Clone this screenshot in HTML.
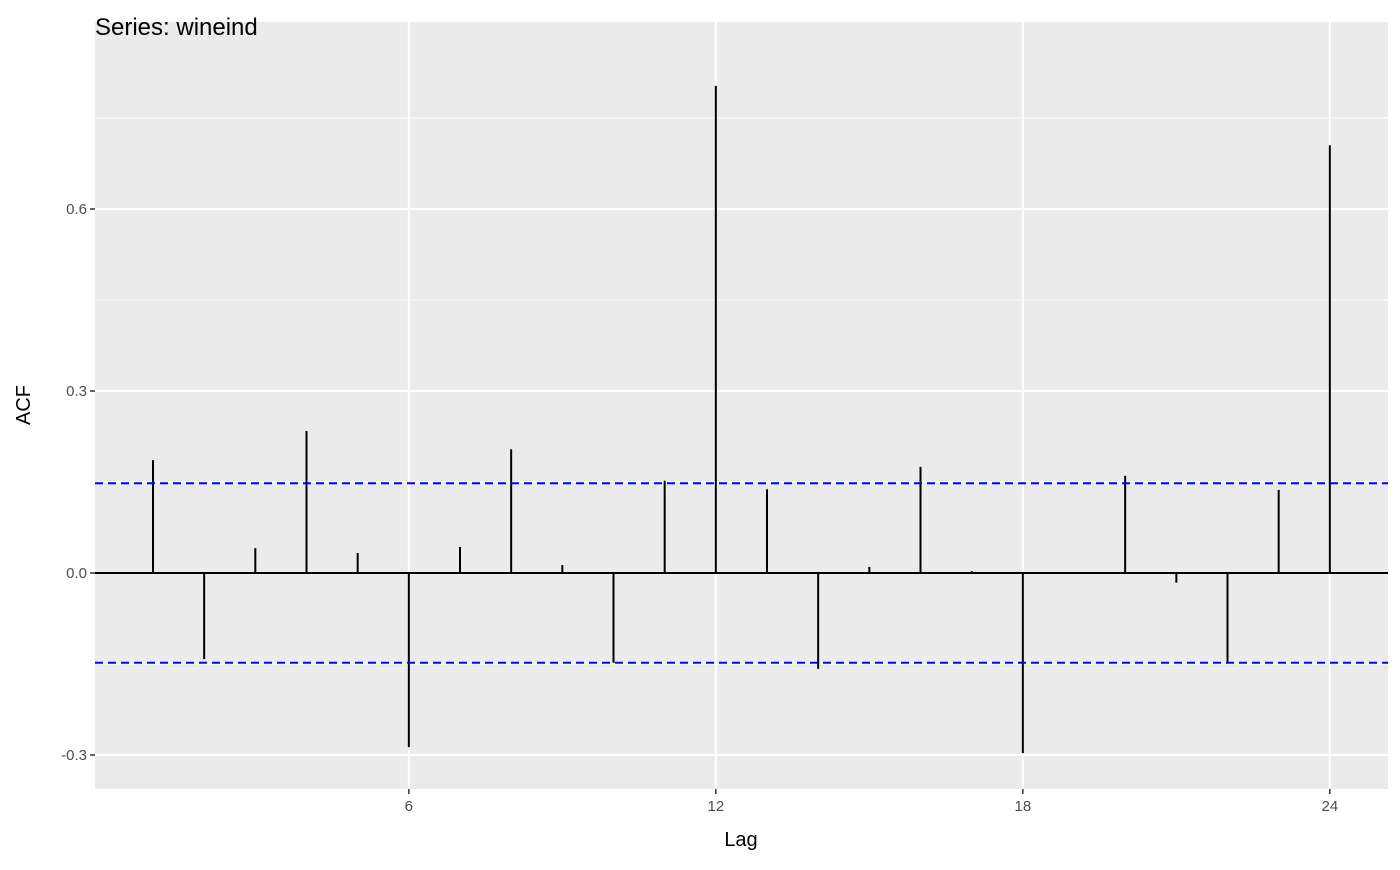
<!DOCTYPE html>
<html><head><meta charset="utf-8"><style>
body{margin:0;background:#fff;font-family:"Liberation Sans",sans-serif}
</style></head><body>
<svg id="chart" width="1400" height="865" xmlns="http://www.w3.org/2000/svg" font-family="Liberation Sans, sans-serif">
<rect x="95" y="22" width="1293" height="767" fill="#ebebeb"/>
<g id="grid"></g>
<g id="marks"></g>
<g id="axes"></g>
<text x="95" y="35" font-size="24" fill="#000">Series: wineind</text>
<text x="741" y="846" font-size="20" text-anchor="middle" fill="#000">Lag</text>
<text transform="translate(30,405) rotate(-90)" font-size="20" text-anchor="middle" fill="#000">ACF</text>
</svg>
<script>
const lags=[1,2,3,4,5,6,7,8,9,10,11,12,13,14,15,16,17,18,19,20,21,22,23,24];
const acf=[0.186,-0.142,0.041,0.234,0.033,-0.287,0.043,0.204,0.013,-0.148,0.152,0.803,0.138,-0.158,0.010,0.175,0.003,-0.297,0.001,0.160,-0.016,-0.148,0.137,0.705];
const ciBound=[0.148];
const xTicks=[6,12,18,24];
const yTicks=[-0.3,0,0.3,0.6];
const yTickLabels=["-0.3","0.0","0.3","0.6"];
const yMinor=[-0.15,0.15,0.45,0.75];
const NS="http://www.w3.org/2000/svg";
const X=l=>153+(l-1)*(715-408)/6;
const Y=v=>573-v*(573-391)/0.3;
const L=95,R=1388,T=22,B=789;
function mk(tag,attrs,parent){const e=document.createElementNS(NS,tag);for(const k in attrs)e.setAttribute(k,attrs[k]);document.getElementById(parent).appendChild(e);return e;}
yMinor.forEach(v=>{const e=mk('line',{x1:L,x2:R,y1:Y(v),y2:Y(v),stroke:'#fff','stroke-width':1},'grid');

});
xTicks.forEach(v=>{const e=mk('line',{x1:X(v),x2:X(v),y1:T,y2:B,stroke:'#fff','stroke-width':2},'grid');


const t=mk('line',{x1:X(v),x2:X(v),y1:B,y2:B+5,stroke:'#333','stroke-width':1.5},'axes');


const tx=mk('text',{x:X(v),y:B+22,'font-size':15,'text-anchor':'middle',fill:'#4d4d4d'},'axes');tx.textContent=v;

});
yTicks.forEach((v,i)=>{const e=mk('line',{x1:L,x2:R,y1:Y(v),y2:Y(v),stroke:'#fff','stroke-width':2},'grid');


const t=mk('line',{x1:L-5,x2:L,y1:Y(v),y2:Y(v),stroke:'#333','stroke-width':1.5},'axes');


const tx=mk('text',{x:L-8,y:Y(v)+5,'font-size':15,'text-anchor':'end',fill:'#4d4d4d'},'axes');tx.textContent=yTickLabels[i];

});
const z=mk('line',{x1:L,x2:R,y1:Y(0),y2:Y(0),stroke:'#000','stroke-width':2},'marks');


lags.forEach((l,i)=>{const e=mk('line',{x1:X(l),x2:X(l),y1:Y(0),y2:Y(acf[i]),stroke:'#000','stroke-width':2},'marks');

});
[ciBound[0],-ciBound[0]].forEach((v,i)=>{const e=mk('line',{x1:L,x2:R,y1:Y(v),y2:Y(v),stroke:'#0000ff','stroke-width':2,'stroke-dasharray':'8,5'},'marks');

});
</script>
</body></html>
